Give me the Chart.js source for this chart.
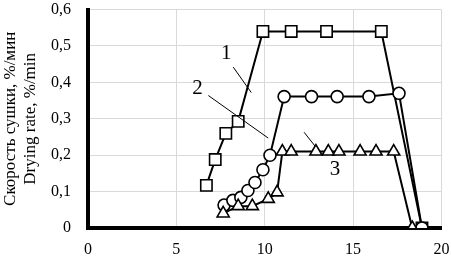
<!DOCTYPE html>
<html>
<head>
<meta charset="utf-8">
<script src="https://cdn.jsdelivr.net/npm/chart.js@4"></script>
<style>
  html, body { margin: 0; padding: 0; background: #fff; }
  #wrap { width: 451px; height: 256px; }
</style>
</head>
<body>
<div id="wrap"><canvas id="chart"></canvas></div>
<script>
// ===== Data =====
const s1X = [6.7, 7.2, 7.8, 8.5, 9.9, 11.5, 13.5, 16.6, 18.9];
const s1Y = [0.117, 0.188, 0.26, 0.293, 0.54, 0.54, 0.54, 0.54, 0];

const s2X = [7.7, 8.2, 8.65, 9.05, 9.45, 9.9, 10.3, 11.1, 12.65, 14.1, 15.9, 17.6, 18.9];
const s2Y = [0.063, 0.076, 0.084, 0.103, 0.125, 0.16, 0.2, 0.361, 0.361, 0.361, 0.361, 0.37, 0];

const s3X = [7.65, 8.5, 9.3, 10.2, 10.7, 11.0, 11.5, 12.9, 13.6, 14.2, 15.4, 16.3, 17.3, 18.35];
const s3Y = [0.04, 0.06, 0.06, 0.08, 0.098, 0.21, 0.21, 0.21, 0.21, 0.21, 0.21, 0.21, 0.21, 0];

const xTicks = [0, 5, 10, 15, 20];
const yTicks = [0, 0.1, 0.2, 0.3, 0.4, 0.5, 0.6];

const yTitle = ['Скорость сушки, %/мин', 'Drying rate, %/min'];

// curve labels: text, label position, leader line start/end (data units)
const labelText = ['1', '2', '3'];
const labelPos  = [[7.82, 0.48], [6.19, 0.383], [13.98, 0.16]];
const leaderA   = [[8.22, 0.442], [6.81, 0.364], [12.23, 0.263]];
const leaderB   = [[9.24, 0.372], [10.2, 0.247], [12.85, 0.225]];

// ===== Helpers =====
const FONT = '"Liberation Serif", "Times New Roman", serif';
const pts = (xs, ys) => xs.map((x, i) => ({ x, y: ys[i] }));
const fmt = v => v === 0 ? '0' : v.toFixed(1).replace('.', ',');

function series(xs, ys, style, radius) {
  return {
    data: pts(xs, ys),
    borderColor: '#000',
    borderWidth: 2,
    pointStyle: style,
    pointRadius: radius,
    pointBackgroundColor: '#fff',
    pointBorderColor: '#000',
    pointBorderWidth: 1.6,
    showLine: true,
    tension: 0
  };
}

const curveLabels = {
  id: 'curveLabels',
  afterDatasetsDraw(chart) {
    const { ctx, scales: { x, y } } = chart;
    ctx.save();
    ctx.strokeStyle = '#000';
    ctx.lineWidth = 1;
    ctx.fillStyle = '#000';
    ctx.font = '21px ' + FONT;
    ctx.textAlign = 'center';
    ctx.textBaseline = 'middle';
    labelText.forEach((t, i) => {
      ctx.beginPath();
      ctx.moveTo(x.getPixelForValue(leaderA[i][0]), y.getPixelForValue(leaderA[i][1]));
      ctx.lineTo(x.getPixelForValue(leaderB[i][0]), y.getPixelForValue(leaderB[i][1]));
      ctx.stroke();
      ctx.fillText(t, x.getPixelForValue(labelPos[i][0]), y.getPixelForValue(labelPos[i][1]));
    });
    ctx.restore();
  }
};

// ===== Chart =====
new Chart(document.getElementById('chart'), {
  type: 'scatter',
  data: {
    datasets: [
      series(s3X, s3Y, 'triangle', 7),
      series(s2X, s2Y, 'circle', 6),
      series(s1X, s1Y, 'rect', 8)
    ]
  },
  options: {
    responsive: true,
    maintainAspectRatio: false,
    animation: false,
    layout: { padding: { left: 0, top: 7, right: 9, bottom: 0 } },
    plugins: { legend: { display: false }, tooltip: { enabled: false } },
    scales: {
      x: {
        type: 'linear', min: 0, max: 20,
        afterBuildTicks: s => { s.ticks = xTicks.map(v => ({ value: v })); },
        afterFit: s => { s.height = 28; s.paddingLeft = 0; s.paddingRight = 0; },
        ticks: { color: '#000', font: { family: FONT, size: 16 }, padding: 12 },
        grid: { color: '#d9d9d9', lineWidth: 1, drawTicks: false },
        border: { color: '#000', width: 4 }
      },
      y: {
        type: 'linear', min: 0, max: 0.6,
        afterBuildTicks: s => { s.ticks = yTicks.map(v => ({ value: v })); },
        afterFit: s => { s.width = 88; s.paddingTop = 0; s.paddingBottom = 0; },
        ticks: { color: '#000', font: { family: FONT, size: 16 }, padding: 17, callback: v => fmt(v) },
        grid: { color: '#d9d9d9', lineWidth: 1, drawTicks: false },
        border: { color: '#000', width: 4 },
        title: {
          display: true,
          text: yTitle,
          color: '#000',
          font: { family: FONT, size: 17, lineHeight: 1.2 },
          padding: { top: 0, bottom: 0 }
        }
      }
    }
  },
  plugins: [curveLabels]
});
</script>
</body>
</html>
